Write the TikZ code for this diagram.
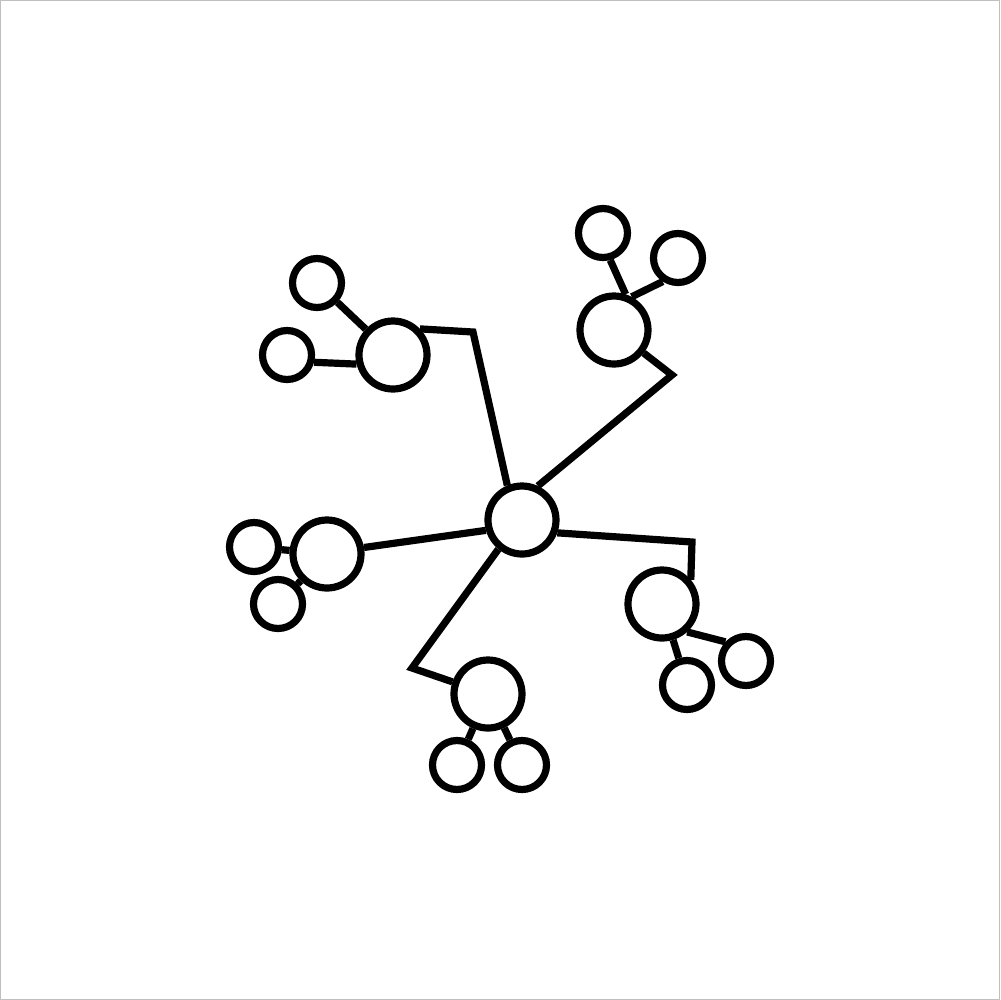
\documentclass[tikz,border=0pt]{standalone}
\begin{document}
\begin{tikzpicture}[x=0.1mm, y=-0.1mm, line width=0.72mm,
% common options for the big circles:
hub/.style = {circle, draw, minimum size=6.8mm, inner sep=0},
% common options for the small circles:
leaf/.style = {circle, draw, minimum size=4.9mm, inner sep=0}]
\useasboundingbox (0,0) rectangle (1000,1000);
\draw[line width=0.1mm, gray!50] (0.5,0.5) rectangle (999.5,999.5);
\node[hub] (C) at (522,520) {};
\node[hub] (H1) at (393,355) {};
\node[leaf] (L11) at (317,283) {};
\node[leaf] (L12) at (287,355) {};
\node[hub] (H2) at (614,330) {};
\node[leaf] (L21) at (603,233) {};
\node[leaf] (L22) at (678,258) {};
\node[hub] (H3) at (327,554) {};
\node[leaf] (L31) at (254,547) {};
\node[leaf] (L32) at (278,604) {};
\node[hub] (H4) at (662,604) {};
\node[leaf] (L41) at (746,661) {};
\node[leaf] (L42) at (687,685) {};
\node[hub] (H5) at (488,694) {};
\node[leaf] (L51) at (457,765) {};
\node[leaf] (L52) at (522,765) {};
\coordinate (K1) at (473,332);
\coordinate (K2) at (672,375);
\coordinate (K4) at (692,542);
\coordinate (K5) at (412,668);
\draw (C.113) -- (K1) -- (H1.44);
\draw (C.65) -- (K2) -- (H2);
\draw (C.-20) -- (K4) -- (H4.40);
\draw (C.196) -- (H3.10);
\draw (C.231) -- (K5) -- (H5);
\draw (L11) -- (H1);
\draw (L12.-15) -- (H1.194);
\draw (L21.-75) -- (H2.72);
\draw (L22.237) -- (H2.62);
\draw (L31) -- (H3);
\draw (L32) -- (H3);
\draw (H4.-48) -- (L41.137);
\draw (H4) -- (L42);
\draw (H5) -- (L51);
\draw (H5) -- (L52);
\end{tikzpicture}
\end{document}
